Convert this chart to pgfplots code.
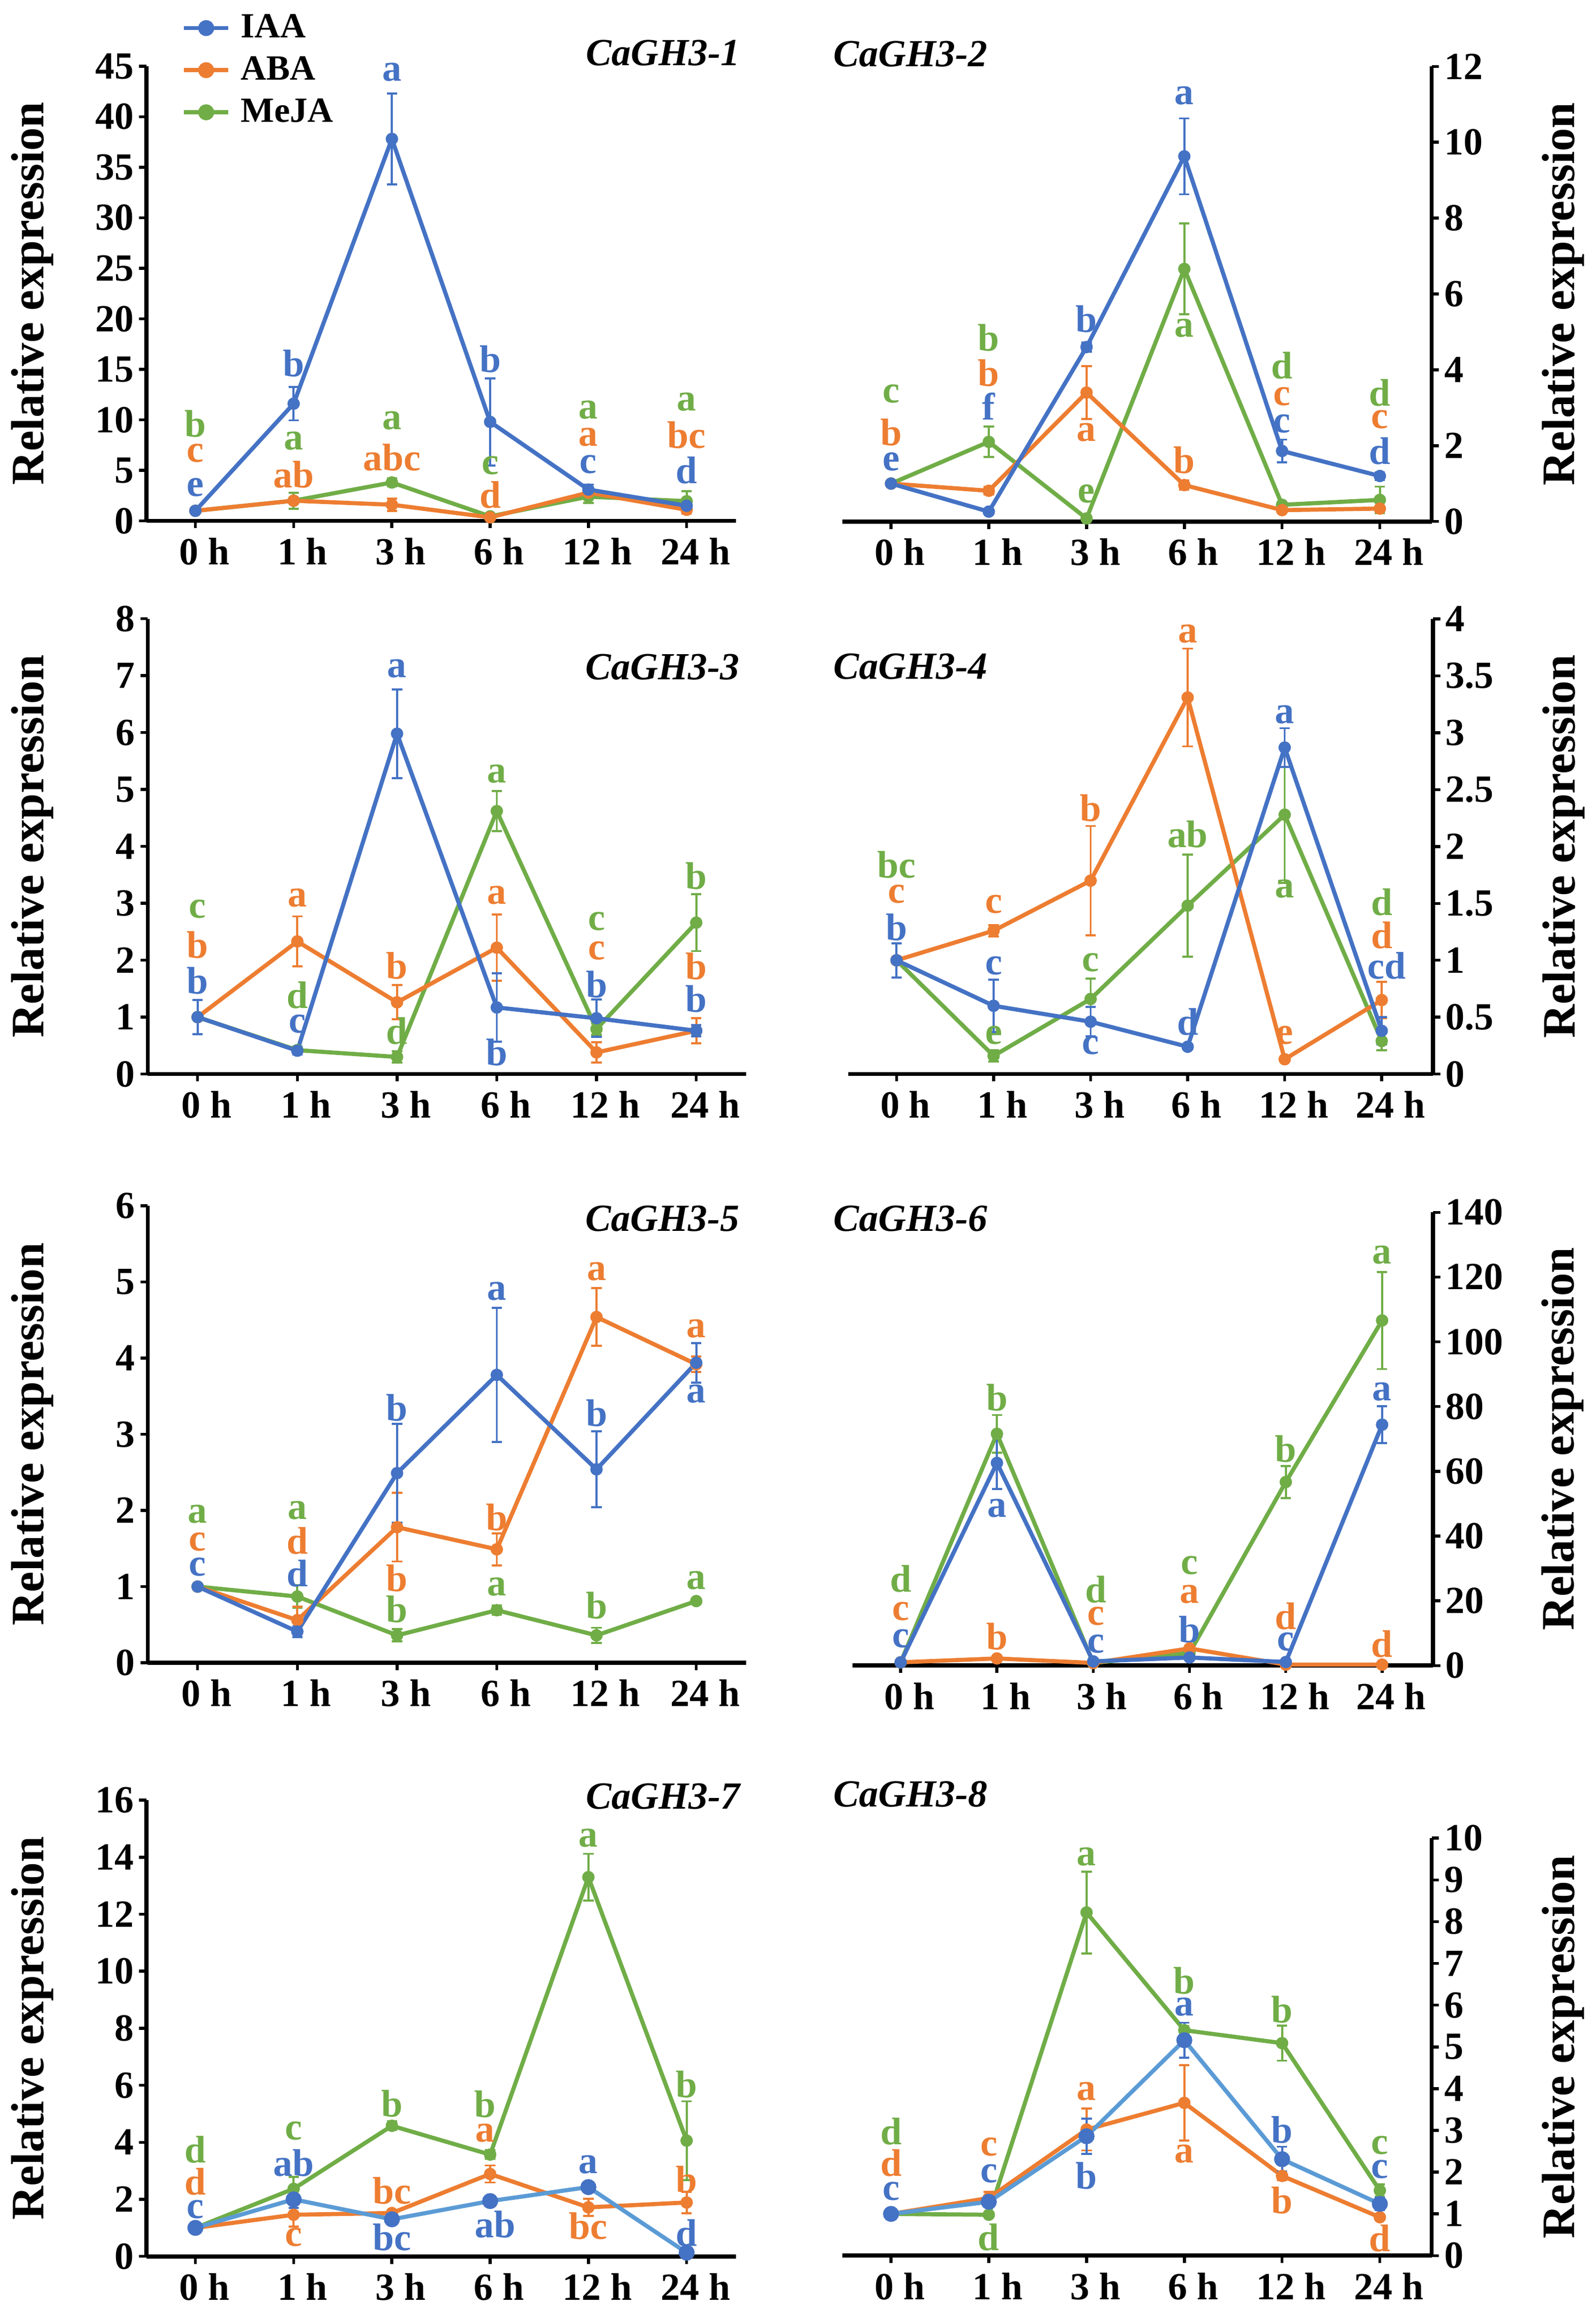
\documentclass[border=0pt]{standalone}
\usepackage{fontspec}
\setmainfont{Liberation Serif}
\usepackage{pgfplots}
\pgfplotsset{compat=1.18}
\definecolor{cIAA}{HTML}{4472C4}
\definecolor{cABA}{HTML}{ED7D31}
\definecolor{cMeJA}{HTML}{70AD47}
\definecolor{cIAAl}{HTML}{5B9BD5}
\newcommand\fs[1]{\fontsize{#1}{#1}\selectfont}
\newcommand\lt[4]{\node[text=#1, font=\bfseries\fs{26}, inner sep=0pt, anchor=center] at (axis cs:#2,#3) {#4};}
\tikzset{gname/.style={font=\bfseries\itshape\fs{26}, inner sep=0pt}}
\pgfplotsset{
  panel/.style={
    scale only axis, clip=false,
    axis x line*=bottom,
    xmin=-0.5, xmax=5.5, ymin=0,
    xtick={0,...,5}, xticklabels={0 h,1 h,3 h,6 h,12 h,24 h},
    axis line style={line width=2.8pt, black},
    major tick style={line width=2pt, black},
    tick align=outside, major tick length=5pt,
    ticklabel style={font=\bfseries\fs{26}},
    /pgf/number format/assume math mode=true,
    xticklabel style={yshift=-3pt, xshift=6pt},
    ylabel={Relative expression},
    ylabel style={font=\bfseries\fs{31.5}},
  },
  leftpanel/.style={panel, axis y line*=left,
    ylabel style={at={(axis description cs:-0.193,0.5)}, anchor=center}},
  rightpanel/.style={panel, axis y line*=right, xmax=5.53,
    yticklabel style={anchor=west},
    ylabel style={at={(axis description cs:1.223,0.5)}, anchor=center}},
  ser/.style={line width=2.8pt, mark=*, mark size=4pt, mark options={line width=0.4pt},
    error bars/y dir=both, error bars/y explicit,
    error bars/error bar style={line width=1.4pt},
    error bars/error mark options={rotate=90, line width=1.4pt, mark size=3.5pt}},
}
\begin{document}
\begin{tikzpicture}[x=1pt,y=1pt]
\path[use as bounding box] (0pt,0pt) rectangle (1080pt,1569pt);
% ---------------- Panel 1
\begin{axis}[leftpanel, at={(99pt,1216.4pt)}, anchor=south west, width=399pt, height=307.8pt,
  ymax=45, ytick distance=5,
  legend style={at={(axis description cs:0.06,1.125)}, anchor=north west, draw=none, fill=none,
    font=\bfseries\fs{24}, row sep=3.5pt, column sep=5pt, inner sep=0pt, nodes={inner sep=2pt, text height=17pt, text depth=4pt}},
  legend cell align=left,
  legend image code/.code={\draw[mark repeat=2,mark phase=2,#1] plot coordinates {(0pt,0pt) (15pt,0pt) (30pt,0pt)};}]
\addlegendimage{cIAA, line width=2.8pt, mark=*, mark size=4pt}
\addlegendentry{IAA}
\addlegendimage{cABA, line width=2.8pt, mark=*, mark size=4pt}
\addlegendentry{ABA}
\addlegendimage{cMeJA, line width=2.8pt, mark=*, mark size=4pt}
\addlegendentry{MeJA}
\addplot[ser, color=cMeJA, forget plot] coordinates {(0,1) +- (0,0.1) (1,2.0) +- (0,0.8) (2,3.8) +- (0,0.4) (3,0.45) +- (0,0.2) (4,2.4) +- (0,0.6) (5,1.95) +- (0,1.0)};
\addplot[ser, color=cABA, forget plot] coordinates {(0,1) +- (0,0.1) (1,2.0) +- (0,0.3) (2,1.6) +- (0,0.6) (3,0.35) +- (0,0.2) (4,2.8) +- (0,0.3) (5,1.1) +- (0,0.4)};
\addplot[ser, color=cIAA, forget plot] coordinates {(0,1) +- (0,0.1) (1,11.6) +- (0,1.65) (2,37.8) +- (0,4.5) (3,9.8) +- (0,4.3) (4,3.1) +- (0,0.5) (5,1.5) +- (0,0.3)};
\lt{cIAA}{0}{3.3}{e}\lt{cIAA}{1}{15.6}{b}\lt{cIAA}{2}{44.4}{a}\lt{cIAA}{3}{16.0}{b}\lt{cIAA}{4}{5.6}{c}\lt{cIAA}{5}{5.0}{d}
\lt{cABA}{0}{6.7}{c}\lt{cABA}{1}{4.6}{ab}\lt{cABA}{2}{6.3}{abc}\lt{cABA}{3}{2.6}{d}\lt{cABA}{4}{8.3}{a}\lt{cABA}{5}{8.5}{bc}
\lt{cMeJA}{0}{9.6}{b}\lt{cMeJA}{1}{7.9}{a}\lt{cMeJA}{2}{9.9}{a}\lt{cMeJA}{3}{5.5}{c}\lt{cMeJA}{4}{11.0}{a}\lt{cMeJA}{5}{11.8}{a}
\node[gname, anchor=east] at (axis description cs:1.0075,1.029) {CaGH3-1};
\end{axis}
% ---------------- Panel 2
\begin{axis}[rightpanel, at={(570pt,1216pt)}, anchor=south west, width=399pt, height=308pt,
  ymax=12, ytick distance=2]
\addplot[ser, color=cMeJA] coordinates {(0,1) +- (0,0.05) (1,2.1) +- (0,0.4) (2,0.08) +- (0,0.02) (3,6.66) +- (0,1.2) (4,0.44) +- (0,0.08) (5,0.57) +- (0,0.35)};
\addplot[ser, color=cABA] coordinates {(0,1) +- (0,0.05) (1,0.81) +- (0,0.1) (2,3.4) +- (0,0.7) (3,0.96) +- (0,0.12) (4,0.3) +- (0,0.05) (5,0.34) +- (0,0.05)};
\addplot[ser, color=cIAA] coordinates {(0,1) +- (0,0.05) (1,0.26) +- (0,0.03) (2,4.6) +- (0,0.12) (3,9.63) +- (0,1.0) (4,1.86) +- (0,0.3) (5,1.2) +- (0,0.1)};
\lt{cIAA}{0}{1.57}{e}\lt{cIAA}{1}{3.04}{f}\lt{cIAA}{2}{5.34}{b}\lt{cIAA}{3}{11.23}{a}\lt{cIAA}{4}{2.57}{c}\lt{cIAA}{5}{1.86}{d}
\lt{cABA}{0}{2.35}{b}\lt{cABA}{1}{3.92}{b}\lt{cABA}{2}{2.35}{a}\lt{cABA}{3}{1.62}{b}\lt{cABA}{4}{3.3}{c}\lt{cABA}{5}{2.69}{c}
\lt{cMeJA}{0}{3.36}{c}\lt{cMeJA}{1}{4.85}{b}\lt{cMeJA}{2}{0.73}{e}\lt{cMeJA}{3}{5.1}{a}\lt{cMeJA}{4}{4.11}{d}\lt{cMeJA}{5}{3.4}{d}
\node[gname, anchor=west] at (axis description cs:-0.015,1.027) {CaGH3-2};
\end{axis}
% ---------------- Panel 3
\begin{axis}[leftpanel, at={(100pt,842pt)}, anchor=south west, width=405pt, height=308.2pt,
  ymax=8, ytick distance=1]
\addplot[ser, color=cMeJA] coordinates {(0,1) +- (0,0.05) (1,0.42) +- (0,0.05) (2,0.3) +- (0,0.1) (3,4.62) +- (0,0.35) (4,0.79) +- (0,0.1) (5,2.66) +- (0,0.5)};
\addplot[ser, color=cABA] coordinates {(0,1) +- (0,0.05) (1,2.33) +- (0,0.44) (2,1.26) +- (0,0.3) (3,2.22) +- (0,0.58) (4,0.38) +- (0,0.18) (5,0.76) +- (0,0.22)};
\addplot[ser, color=cIAA] coordinates {(0,1) +- (0,0.3) (1,0.41) +- (0,0.07) (2,5.98) +- (0,0.78) (3,1.17) +- (0,0.6) (4,0.98) +- (0,0.33) (5,0.76) +- (0,0.1)};
\lt{cIAA}{0}{1.64}{b}\lt{cIAA}{1}{0.88}{c}\lt{cIAA}{2}{7.12}{a}\lt{cIAA}{3}{0.38}{b}\lt{cIAA}{4}{1.57}{b}\lt{cIAA}{5}{1.32}{b}
\lt{cABA}{0}{2.27}{b}\lt{cABA}{1}{3.09}{a}\lt{cABA}{2}{1.9}{b}\lt{cABA}{3}{3.14}{a}\lt{cABA}{4}{2.17}{c}\lt{cABA}{5}{1.89}{b}
\lt{cMeJA}{0}{2.9}{c}\lt{cMeJA}{1}{1.39}{d}\lt{cMeJA}{2}{0.76}{d}\lt{cMeJA}{3}{5.27}{a}\lt{cMeJA}{4}{2.68}{c}\lt{cMeJA}{5}{3.48}{b}
\node[gname, anchor=east] at (axis description cs:0.989,0.894) {CaGH3-3};
\end{axis}
% ---------------- Panel 4
\begin{axis}[rightpanel, at={(574pt,842pt)}, anchor=south west, width=396pt, height=308pt,
  ymax=4, ytick distance=0.5]
\addplot[ser, color=cMeJA] coordinates {(0,1) +- (0,0.03) (1,0.16) +- (0,0.05) (2,0.66) +- (0,0.18) (3,1.48) +- (0,0.45) (4,2.28) +- (0,0.6) (5,0.29) +- (0,0.08)};
\addplot[ser, color=cABA] coordinates {(0,1) +- (0,0.03) (1,1.26) +- (0,0.05) (2,1.7) +- (0,0.48) (3,3.31) +- (0,0.43) (4,0.13) +- (0,0.02) (5,0.65) +- (0,0.16)};
\addplot[ser, color=cIAA] coordinates {(0,1) +- (0,0.15) (1,0.6) +- (0,0.23) (2,0.46) +- (0,0.13) (3,0.24) +- (0,0.02) (4,2.87) +- (0,0.17) (5,0.38) +- (0,0.12)};
\lt{cIAA}{0}{1.29}{b}\lt{cIAA}{1}{0.95}{c}\lt{cIAA}{2}{0.25}{c}\lt{cIAA}{3}{0.46}{d}\lt{cIAA}{4}{3.16}{a}\lt{cIAA}{5.05}{0.95}{cd}
\lt{cABA}{0}{1.58}{c}\lt{cABA}{1}{1.49}{c}\lt{cABA}{2}{2.34}{b}\lt{cABA}{3}{3.87}{a}\lt{cABA}{4}{0.34}{e}\lt{cABA}{5}{1.22}{d}
\lt{cMeJA}{0}{1.84}{bc}\lt{cMeJA}{1}{0.34}{e}\lt{cMeJA}{2}{0.98}{c}\lt{cMeJA}{3}{2.11}{ab}\lt{cMeJA}{4}{1.63}{a}\lt{cMeJA}{5}{1.51}{d}
\node[gname, anchor=west] at (axis description cs:-0.025,0.896) {CaGH3-4};
\end{axis}
% ---------------- Panel 5
\begin{axis}[leftpanel, at={(100pt,443.5pt)}, anchor=south west, width=405pt, height=309.3pt,
  ymax=6, ytick distance=1]
\addplot[ser, color=cMeJA] coordinates {(0,1) +- (0,0.02) (1,0.87) +- (0,0.15) (2,0.36) +- (0,0.08) (3,0.69) +- (0,0.06) (4,0.36) +- (0,0.1) (5,0.81) +- (0,0.03)};
\addplot[ser, color=cABA] coordinates {(0,1) +- (0,0.02) (1,0.56) +- (0,0.18) (2,1.78) +- (0,0.45) (3,1.49) +- (0,0.21) (4,4.54) +- (0,0.38) (5,3.92) +- (0,0.1)};
\addplot[ser, color=cIAA] coordinates {(0,1) +- (0,0.02) (1,0.41) +- (0,0.07) (2,2.49) +- (0,0.65) (3,3.78) +- (0,0.88) (4,2.54) +- (0,0.5) (5,3.94) +- (0,0.26)};
\lt{cIAA}{0}{1.26}{c}\lt{cIAA}{1}{1.17}{d}\lt{cIAA}{2}{3.35}{b}\lt{cIAA}{3}{4.88}{a}\lt{cIAA}{4}{3.28}{b}\lt{cIAA}{5}{3.53}{a}
\lt{cABA}{0}{1.59}{c}\lt{cABA}{1}{1.6}{d}\lt{cABA}{2}{1.11}{b}\lt{cABA}{3}{1.91}{b}\lt{cABA}{4}{5.14}{a}\lt{cABA}{5}{4.39}{a}
\lt{cMeJA}{0}{1.95}{a}\lt{cMeJA}{1}{2.0}{a}\lt{cMeJA}{2}{0.7}{b}\lt{cMeJA}{3}{1.0}{a}\lt{cMeJA}{4}{0.75}{b}\lt{cMeJA}{5}{1.08}{a}
\node[gname, anchor=east] at (axis description cs:0.989,0.9716) {CaGH3-5};
\end{axis}
% ---------------- Panel 6
\begin{axis}[rightpanel, at={(577pt,441.6pt)}, anchor=south west, width=393pt, height=306.8pt,
  ymax=140, ytick distance=20]
\addplot[ser, color=cMeJA] coordinates {(0,1) +- (0,0.2) (1,71.6) +- (0,5.8) (2,0.8) +- (0,0.2) (3,3.9) +- (0,0.4) (4,56.7) +- (0,5) (5,106.6) +- (0,15)};
\addplot[ser, color=cABA] coordinates {(0,1) +- (0,0.2) (1,2.2) +- (0,0.4) (2,0.8) +- (0,0.2) (3,5.3) +- (0,0.6) (4,0.3) +- (0,0.1) (5,0.3) +- (0,0.1)};
\addplot[ser, color=cIAA] coordinates {(0,1) +- (0,0.2) (1,62.6) +- (0,8) (2,1.3) +- (0,0.3) (3,2.5) +- (0,0.5) (4,1.1) +- (0,0.2) (5,74.4) +- (0,5.7)};
\lt{cIAA}{0}{8.4}{c}\lt{cIAA}{1}{48.6}{a}\lt{cIAA}{2.03}{6.7}{c}\lt{cIAA}{3}{11.2}{b}\lt{cIAA}{4}{7.3}{c}\lt{cIAA}{5}{84.6}{a}
\lt{cABA}{0}{16.8}{c}\lt{cABA}{1}{8.9}{b}\lt{cABA}{2.03}{15.3}{c}\lt{cABA}{3}{22}{a}\lt{cABA}{4}{15.3}{d}\lt{cABA}{5}{6.7}{d}
\lt{cMeJA}{0}{26.8}{d}\lt{cMeJA}{1}{82.7}{b}\lt{cMeJA}{2.03}{23.5}{d}\lt{cMeJA}{3}{31}{c}\lt{cMeJA}{4}{67}{b}\lt{cMeJA}{5}{126.9}{a}
\node[gname, anchor=west] at (axis description cs:-0.033,0.986) {CaGH3-6};
\end{axis}
% ---------------- Panel 7
\begin{axis}[leftpanel, at={(99pt,41.7pt)}, anchor=south west, width=399pt, height=308.8pt,
  ymax=16, ytick distance=2]
\addplot[ser, color=cMeJA] coordinates {(0,1) +- (0,0.05) (1,2.37) +- (0,0.42) (2,4.58) +- (0,0.15) (3,3.57) +- (0,0.15) (4,13.3) +- (0,0.82) (5,4.06) +- (0,1.38)};
\addplot[ser, color=cABA] coordinates {(0,1) +- (0,0.05) (1,1.46) +- (0,0.42) (2,1.52) +- (0,0.1) (3,2.89) +- (0,0.3) (4,1.72) +- (0,0.3) (5,1.89) +- (0,0.38)};
\addplot[ser, color=cIAAl, mark options={fill=cIAA, draw=cIAA}, error bars/error bar style={color=cIAA}] coordinates {(0,1) +- (0,0.05) (1,2.0) +- (0,0.3) (2,1.3) +- (0,0.1) (3,1.94) +- (0,0.1) (4,2.43) +- (0,0.15) (5,0.13) +- (0,0.05)};
\lt{cIAA}{0}{1.65}{c}\lt{cIAA}{1}{3.28}{ab}\lt{cIAA}{2}{0.68}{bc}\lt{cIAA}{3.05}{1.13}{ab}\lt{cIAA}{4}{3.22}{a}\lt{cIAA}{5}{0.83}{d}
\lt{cABA}{0}{2.63}{d}\lt{cABA}{1}{0.68}{c}\lt{cABA}{2}{2.3}{bc}\lt{cABA}{2.95}{4.32}{a}\lt{cABA}{4}{1.07}{bc}\lt{cABA}{5}{2.7}{b}
\lt{cMeJA}{0}{3.74}{d}\lt{cMeJA}{1}{4.41}{c}\lt{cMeJA}{2}{5.36}{b}\lt{cMeJA}{2.95}{5.33}{b}\lt{cMeJA}{4}{14.67}{a}\lt{cMeJA}{5}{6.04}{b}
\node[gname, anchor=east] at (axis description cs:1.0075,1.008) {CaGH3-7};
\end{axis}
% ---------------- Panel 8
\begin{axis}[rightpanel, at={(570pt,42.2pt)}, anchor=south west, width=399pt, height=282.6pt,
  ymax=10, ytick distance=1]
\addplot[ser, color=cMeJA] coordinates {(0,1) +- (0,0.03) (1,0.98) +- (0,0.03) (2,8.22) +- (0,0.98) (3,5.4) +- (0,0.1) (4,5.09) +- (0,0.42) (5,1.56) +- (0,0.15)};
\addplot[ser, color=cABA] coordinates {(0,1) +- (0,0.05) (1,1.38) +- (0,0.15) (2,3.02) +- (0,0.5) (3,3.66) +- (0,0.9) (4,1.91) +- (0,0.1) (5,0.92) +- (0,0.05)};
\addplot[ser, color=cIAAl, mark options={fill=cIAA, draw=cIAA}, error bars/error bar style={color=cIAA}] coordinates {(0,1) +- (0,0.12) (1,1.29) +- (0,0.1) (2,2.86) +- (0,0.42) (3,5.16) +- (0,0.42) (4,2.31) +- (0,0.3) (5,1.24) +- (0,0.15)};
\lt{cIAA}{0}{1.54}{c}\lt{cIAA}{1}{1.96}{c}\lt{cIAA}{2}{1.91}{b}\lt{cIAA}{3}{5.96}{a}\lt{cIAA}{4}{3.02}{b}\lt{cIAA}{5}{2.07}{c}
\lt{cABA}{0}{2.22}{d}\lt{cABA}{1}{2.6}{c}\lt{cABA}{2}{3.93}{a}\lt{cABA}{3}{2.44}{a}\lt{cABA}{4}{1.33}{b}\lt{cABA}{5}{0.42}{d}
\lt{cMeJA}{0}{2.98}{d}\lt{cMeJA}{1}{0.44}{d}\lt{cMeJA}{2}{9.56}{a}\lt{cMeJA}{3}{6.58}{b}\lt{cMeJA}{4}{5.89}{b}\lt{cMeJA}{5}{2.64}{c}
\node[gname, anchor=west] at (axis description cs:-0.015,1.105) {CaGH3-8};
\end{axis}
\end{tikzpicture}
\end{document}
